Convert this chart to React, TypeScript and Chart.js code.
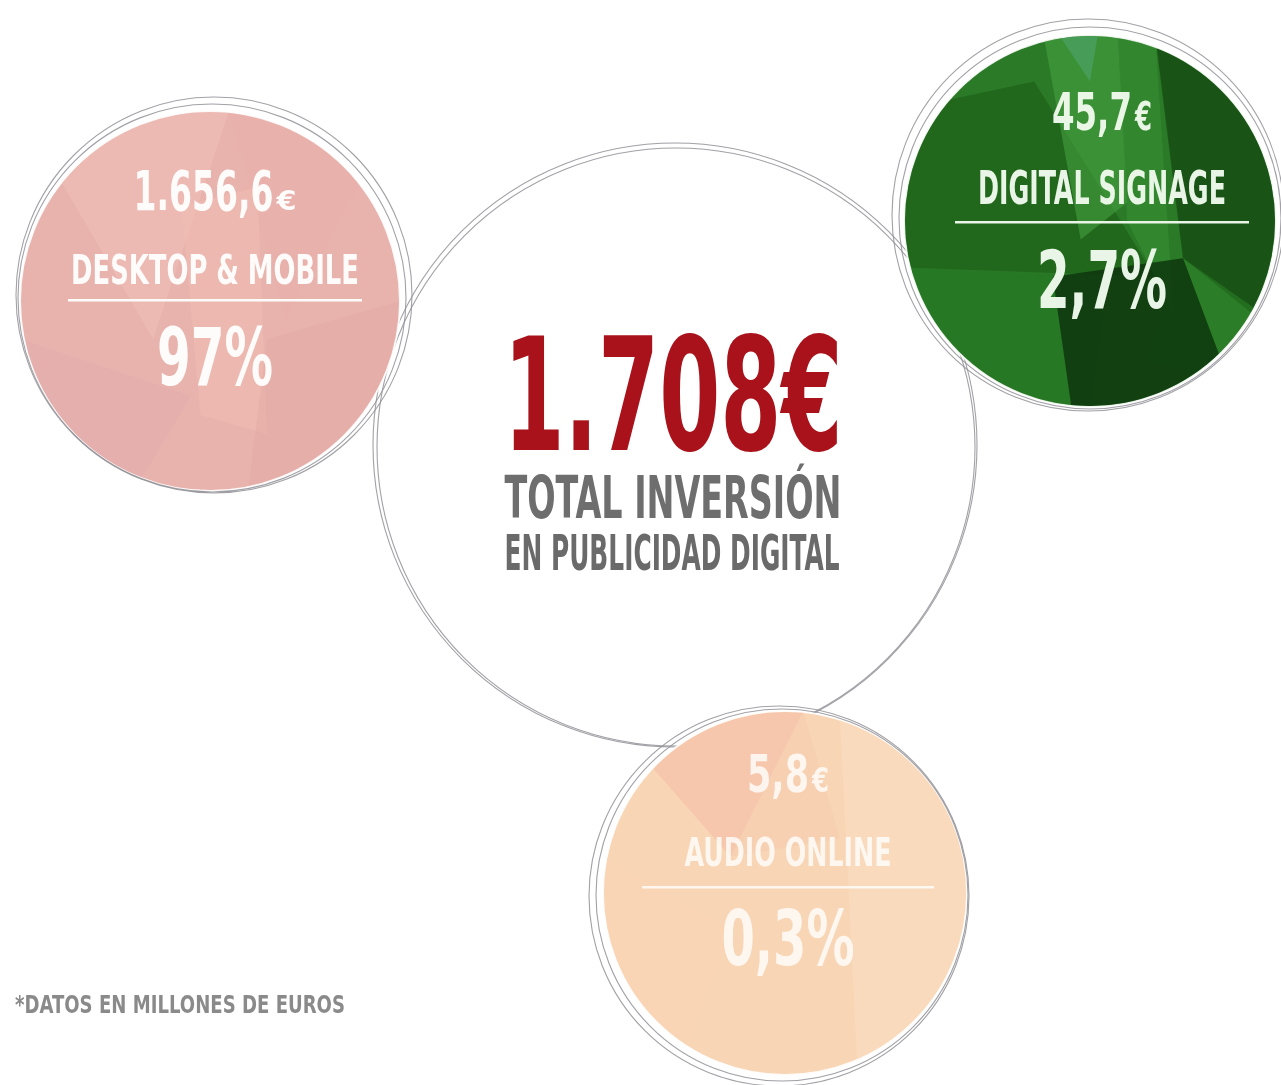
import React, { useEffect, useRef } from 'react';
import { Chart, registerables } from 'chart.js';

Chart.register(...registerables);

// ---------- data ----------
const categories = ['DESKTOP & MOBILE', 'DIGITAL SIGNAGE', 'AUDIO ONLINE'];
const amountsMillions = [1656.6, 45.7, 5.8];
const amountLabels = ['1.656,6', '45,7', '5,8'];
const shareLabels = ['97%', '2,7%', '0,3%'];
const bubbleX = [210, 1090, 785];
const bubbleY = [301, 221, 893];
const bubbleR = [190, 186, 182];

const totalValue = 1708;
const totalLabel = '1.708';
const totalTitle = ['TOTAL INVERSIÓN', 'EN PUBLICIDAD DIGITAL'];
const totalX = [675];
const totalY = [445];
const totalR = [302];
const footnote = '*DATOS EN MILLONES DE EUROS';

// ---------- styles ----------
const W = 1281;
const H = 1085;
const FONT = '"Liberation Sans Narrow", "DejaVu Sans Condensed", "Roboto", sans-serif';
const RING = 'rgba(145,145,150,0.85)';
const fillColors = ['#e8b3ad', '#2b7a27', '#f8d5b4'];
const textColors = ['rgba(255,255,255,0.95)', 'rgba(240,250,236,0.97)', 'rgba(255,255,255,0.8)'];

type P = [number, number];
const facets: { pts: P[]; color: string }[][] = [
  [
    { pts: [[-1, -1], [0.1, -1], [-0.3, 0.2]], color: 'rgba(241,196,186,0.45)' },
    { pts: [[0.1, -1], [1, -1], [0.4, 0.1]], color: 'rgba(236,176,168,0.4)' },
    { pts: [[-0.15, -0.5], [0.25, -0.6], [0.3, 0.7], [-0.05, 0.6]], color: 'rgba(243,192,178,0.4)' },
    { pts: [[-1, 0.2], [-0.1, 0.5], [-0.4, 1], [-1, 1]], color: 'rgba(224,170,176,0.4)' },
    { pts: [[0.3, 0.2], [1, 0], [1, 1], [0.2, 1]], color: 'rgba(226,166,162,0.35)' },
  ],
  [
    { pts: [[-1, -0.6], [-0.3, -0.75], [0.35, 0.3], [-1, 0.25]], color: 'rgba(26,92,24,0.6)' },
    { pts: [[-0.25, -1], [0.15, -1], [0.2, -0.1], [-0.05, 0.1]], color: 'rgba(70,160,64,0.6)' },
    { pts: [[-0.2, -1.05], [0.05, -1.05], [0.0, -0.75]], color: 'rgba(80,165,110,0.6)' },
    { pts: [[0.15, -1], [0.35, -1], [0.45, 0.5], [0.2, 0.0]], color: 'rgba(56,146,52,0.55)' },
    { pts: [[0.35, -1], [1, -1], [1, 0.6], [0.5, 0.2]], color: 'rgba(20,72,18,0.75)' },
    { pts: [[0.5, 0.2], [1, 0.55], [1, 0.95], [0.3, 0.75]], color: 'rgba(44,130,40,0.55)' },
    { pts: [[-1, 0.25], [0.1, 0.3], [0.0, 1], [-1, 1]], color: 'rgba(36,118,33,0.5)' },
    { pts: [[-0.2, 0.3], [0.5, 0.2], [0.8, 1], [-0.1, 1]], color: 'rgba(12,48,12,0.78)' },
  ],
  [
    { pts: [[-1, -1], [0.1, -1], [-0.3, -0.2]], color: 'rgba(244,188,166,0.55)' },
    { pts: [[-0.3, -0.2], [0.1, -1], [0.3, -0.3]], color: 'rgba(246,200,172,0.45)' },
    { pts: [[0.3, -1], [1, -1], [1, 1], [0.4, 1]], color: 'rgba(251,224,198,0.45)' },
    { pts: [[-1, -0.2], [-0.3, 0.2], [-0.6, 1], [-1, 1]], color: 'rgba(250,212,184,0.45)' },
  ],
];

// rings: [dx, dy, dr]
const rings: [number, number, number][][] = [
  [[4, -6, 8], [2, -3, 4]],
  [[-2, -6, 10], [0, -3, 5]],
  [[-6, 3, 8], [-3, 2, 4]],
];
const totalRings: [number, number, number][] = [[0, 0, 0], [1, 2, -3]];

// text layout, offsets from circle centre
const textLayout = [
  { dx: 5, amtBase: -91, amtCap: 40, amtW: 140, eurCap: 20, eurW: 20, labBase: -17, labCap: 30, labW: 288, lineDy: -1, lineHalf: 147, pctBase: 84, pctCap: 58, pctW: 116 },
  { dx: 12, amtBase: -91, amtCap: 38, amtW: 80, eurCap: 28, eurW: 17, labBase: -17, labCap: 34, labW: 248, lineDy: 1, lineHalf: 147, pctBase: 87, pctCap: 58, pctW: 130 },
  { dx: 3, amtBase: -101, amtCap: 37, amtW: 62, eurCap: 25, eurW: 17, labBase: -27, labCap: 29, labW: 207, lineDy: -6, lineHalf: 146, pctBase: 72, pctCap: 56, pctW: 133 },
];

let capRatioCache = 0;
function capRatio(ctx: CanvasRenderingContext2D) {
  if (capRatioCache) return capRatioCache;
  ctx.save();
  ctx.font = `bold 100px ${FONT}`;
  const m = ctx.measureText('H');
  ctx.restore();
  capRatioCache = m.actualBoundingBoxAscent ? m.actualBoundingBoxAscent / 100 : 0.72;
  return capRatioCache;
}

function drawFitted(
  ctx: CanvasRenderingContext2D,
  text: string,
  x: number,
  baseline: number,
  cap: number,
  width: number,
  fill: string | CanvasGradient,
  align: CanvasTextAlign = 'center'
) {
  const size = cap / capRatio(ctx);
  ctx.save();
  ctx.font = `bold ${size}px ${FONT}`;
  const w = ctx.measureText(text).width;
  const sx = width / w;
  ctx.translate(x, baseline);
  ctx.scale(sx, 1);
  ctx.textAlign = align;
  ctx.textBaseline = 'alphabetic';
  ctx.fillStyle = fill;
  ctx.fillText(text, 0, 0);
  ctx.restore();
}

function strokeRing(ctx: CanvasRenderingContext2D, x: number, y: number, r: number) {
  ctx.beginPath();
  ctx.arc(x, y, r, 0, Math.PI * 2);
  ctx.strokeStyle = RING;
  ctx.lineWidth = 1.1;
  ctx.stroke();
}

const infographicPlugin = {
  id: 'infographic',
  afterDatasetDraw(chart: any, args: any) {
    const ctx: CanvasRenderingContext2D = chart.ctx;
    const meta = args.meta;
    if (args.index === 0) {
      meta.data.forEach((el: any) => {
        const r = el.options.radius;
        totalRings.forEach(([dx, dy, dr]) => strokeRing(ctx, el.x + dx, el.y + dy, r + dr));
        const cx = el.x - 2;
        const g = ctx.createLinearGradient(cx - 170, el.y - 110, cx + 170, el.y + 5);
        g.addColorStop(0, '#a9121a');
        g.addColorStop(0.45, '#d9161f');
        g.addColorStop(0.7, '#c8141c');
        g.addColorStop(1, '#a51018');
        drawFitted(ctx, totalLabel + '€', cx, el.y + 5, 115, 339, g);
        drawFitted(ctx, totalTitle[0], cx, el.y + 73, 43, 337, '#6e6e6e');
        drawFitted(ctx, totalTitle[1], cx - 1, el.y + 125, 36, 335, '#6a6a6a');
      });
      return;
    }
    meta.data.forEach((el: any, i: number) => {
      const r = el.options.radius;
      const x = el.x;
      const y = el.y;
      ctx.save();
      ctx.beginPath();
      ctx.arc(x, y, r - 1, 0, Math.PI * 2);
      ctx.clip();
      facets[i].forEach((f) => {
        ctx.beginPath();
        f.pts.forEach(([u, v], k) => {
          const px = x + u * r;
          const py = y + v * r;
          if (k === 0) ctx.moveTo(px, py);
          else ctx.lineTo(px, py);
        });
        ctx.closePath();
        ctx.fillStyle = f.color;
        ctx.fill();
      });
      ctx.restore();
      rings[i].forEach(([dx, dy, dr]) => strokeRing(ctx, x + dx, y + dy, r + dr));
      const L = textLayout[i];
      const col = textColors[i];
      const cx = x + L.dx;
      const gap = 3;
      const total = L.amtW + gap + L.eurW;
      const start = cx - total / 2;
      drawFitted(ctx, amountLabels[i], start, y + L.amtBase, L.amtCap, L.amtW, col, 'left');
      drawFitted(ctx, '€', start + L.amtW + gap, y + L.amtBase, L.eurCap, L.eurW, col, 'left');
      drawFitted(ctx, categories[i], cx, y + L.labBase, L.labCap, L.labW, col);
      ctx.save();
      ctx.fillStyle = col;
      ctx.fillRect(cx - L.lineHalf, y + L.lineDy - 1, L.lineHalf * 2, 2.5);
      ctx.restore();
      drawFitted(ctx, shareLabels[i], cx, y + L.pctBase, L.pctCap, L.pctW, col);
    });
  },
  afterDraw(chart: any) {
    const ctx: CanvasRenderingContext2D = chart.ctx;
    drawFitted(ctx, footnote, 15, 1013, 18, 330, '#8a8a8a', 'left');
  },
};

export default function App() {
  const canvasRef = useRef<HTMLCanvasElement | null>(null);

  useEffect(() => {
    document.body.style.margin = '0';
    document.documentElement.style.overflow = 'hidden';
    const canvas = canvasRef.current;
    if (!canvas) return;
    const chart = new Chart(canvas, {
      type: 'bubble',
      data: {
        datasets: [
          {
            label: 'Total inversión (' + totalValue + ')',
            data: totalX.map((x, i) => ({ x, y: totalY[i], r: totalR[i] })),
            backgroundColor: '#ffffff',
            borderColor: 'rgba(255,255,255,0)',
            borderWidth: 0,
            clip: false,
            order: 2,
          },
          {
            label: 'Inversión por formato',
            data: categories.map((_, i) => ({ x: bubbleX[i], y: bubbleY[i], r: bubbleR[i], v: amountsMillions[i] })),
            backgroundColor: fillColors,
            borderColor: 'rgba(255,255,255,0.9)',
            borderWidth: 2,
            clip: false,
            order: 1,
          },
        ],
      },
      options: {
        responsive: false,
        maintainAspectRatio: false,
        animation: false,
        devicePixelRatio: 1,
        layout: { padding: 0, autoPadding: false },
        events: [],
        scales: {
          x: { type: 'linear', min: 0, max: W, display: false },
          y: { type: 'linear', min: 0, max: H, reverse: true, display: false },
        },
        plugins: {
          legend: { display: false },
          tooltip: { enabled: false },
        },
      },
      plugins: [infographicPlugin],
    } as any);
    return () => chart.destroy();
  }, []);

  return (
    <div style={{ width: W, height: H, background: '#ffffff', overflow: 'hidden' }}>
      <canvas ref={canvasRef} width={W} height={H} style={{ display: 'block', width: W, height: H }} />
    </div>
  );
}
